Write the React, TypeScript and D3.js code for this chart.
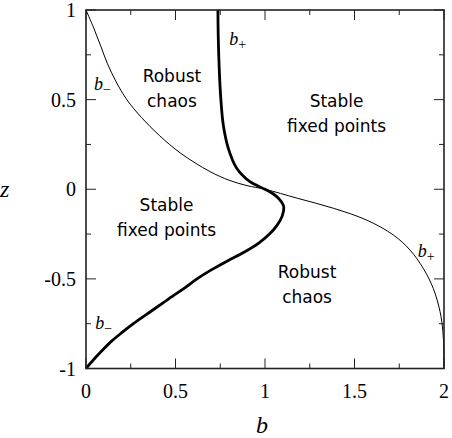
import React from 'react';
import * as d3 from 'd3';

const width = 452;
const height = 438;
const margin = { left: 86, right: 8, top: 10, bottom: 69.5 };

// thin curve: b_- for z > 0, b_+ for z < 0
const thinZ = [1, 0.9, 0.8, 0.7, 0.6, 0.5, 0.4, 0.3, 0.2, 0.1, 0.05, 0.02, 0,
  -0.05, -0.106, -0.172, -0.255, -0.339, -0.441, -0.553, -0.683, -0.795, -0.9, -1];
const thinB = [0, 0.043, 0.082, 0.12, 0.168, 0.228, 0.31, 0.41, 0.53, 0.69, 0.8, 0.9, 1,
  1.18, 1.382, 1.568, 1.717, 1.81, 1.884, 1.94, 1.978, 1.994, 1.999, 2];

// thick curve: b_+ for z > 0, b_- for z < 0
const thickZ = [1, 0.842, 0.656, 0.507, 0.358, 0.228, 0.117, 0.042, 0,
  -0.025, -0.05, -0.075, -0.1, -0.15, -0.2, -0.25, -0.3, -0.35, -0.4, -0.45,
  -0.5, -0.55, -0.6, -0.65, -0.7, -0.75, -0.8, -0.85, -0.9, -0.95, -1];
const thickB = [0.737, 0.739, 0.745, 0.753, 0.767, 0.795, 0.842, 0.916, 1,
  1.045, 1.075, 1.095, 1.105, 1.096, 1.068, 1.025, 0.965, 0.885, 0.79, 0.7,
  0.62, 0.552, 0.478, 0.407, 0.336, 0.265, 0.2, 0.14, 0.09, 0.043, 0];

// ticks
const bMajor = [0, 0.5, 1, 1.5, 2];
const bLabels = ['0', '0.5', '1', '1.5', '2'];
const zMajor = [-1, -0.5, 0, 0.5, 1];
const zLabels = ['-1', '-0.5', '0', '0.5', '1'];
const bMinor = [0.25, 0.75, 1.25, 1.75];
const zMinor = [-0.75, -0.25, 0.25, 0.75];

// region names, anchored in (b, z)
const regionText = [['Robust', 'chaos'], ['Stable', 'fixed points'], ['Stable', 'fixed points'], ['Robust', 'chaos']];
const regionB = [0.48, 1.4, 0.45, 1.235];
const regionZ = [0.598, 0.458, -0.121, -0.495];

// curve names
const curveSub = ['\u2212', '+', '+', '\u2212'];
const curveLabelB = [0.045, 0.8, 1.853, 0.052];
const curveLabelZ = [0.554, 0.805, -0.38, -0.78];

const App = () => {
  const x = d3.scaleLinear().domain([0, 2]).range([margin.left, width - margin.right]);
  const y = d3.scaleLinear().domain([-1, 1]).range([height - margin.bottom, margin.top]);

  const path = (bs: number[], zs: number[]) =>
    d3.line<number>()
      .x((d) => x(bs[d]))
      .y((d) => y(zs[d]))
      .curve(d3.curveCatmullRom.alpha(0.5))(d3.range(bs.length)) || '';

  const [x0, x1] = x.range();
  const [y0, y1] = y.range();
  const serif = '"Liberation Serif", "Times New Roman", serif';
  const sans = '"DejaVu Sans", sans-serif';

  return (
    <svg width={width} height={height} style={{ position: 'absolute', left: 0, top: 0, background: '#fff' }}>
      {/* curves */}
      <path d={path(thinB, thinZ)} fill="none" stroke="#000" strokeWidth={1} />
      <path d={path(thickB, thickZ)} fill="none" stroke="#000" strokeWidth={2.8} />

      {/* frame */}
      <rect x={x0} y={y1} width={x1 - x0} height={y0 - y1} fill="none" stroke="#222" strokeWidth={1.6} />

      {/* ticks, mirrored on all four sides */}
      {bMajor.concat(bMinor).map((d, i) => {
        const len = i < bMajor.length ? 10 : 5;
        return (
          <g key={'bt' + d} stroke="#222" strokeWidth={1}>
            <line x1={x(d)} x2={x(d)} y1={y0} y2={y0 - len} />
            <line x1={x(d)} x2={x(d)} y1={y1} y2={y1 + len} />
          </g>
        );
      })}
      {zMajor.concat(zMinor).map((d, i) => {
        const len = i < zMajor.length ? 10 : 5;
        return (
          <g key={'zt' + d} stroke="#222" strokeWidth={1}>
            <line x1={x0} x2={x0 + len} y1={y(d)} y2={y(d)} />
            <line x1={x1} x2={x1 - len} y1={y(d)} y2={y(d)} />
          </g>
        );
      })}

      {/* tick labels */}
      {bMajor.map((d, i) => (
        <text key={'bl' + d} x={x(d)} y={398} textAnchor="middle" fontFamily={serif} fontSize={20}>
          {bLabels[i]}
        </text>
      ))}
      {zMajor.map((d, i) => (
        <text key={'zl' + d} x={76} y={y(d)} dy="0.35em" textAnchor="end" fontFamily={serif} fontSize={20}>
          {zLabels[i]}
        </text>
      ))}

      {/* axis titles */}
      <text x={262} y={433} textAnchor="middle" fontFamily={serif} fontStyle="italic" fontSize={24}>b</text>
      <text x={0} y={197} fontFamily={serif} fontStyle="italic" fontSize={24}>z</text>

      {/* region names */}
      {regionText.map((lines, i) => (
        <text key={'r' + i} textAnchor="middle" fontFamily={sans} fontSize={17} fill="#000">
          {lines.map((t, j) => (
            <tspan key={j} x={x(regionB[i])} y={y(regionZ[i]) + j * 25}>{t}</tspan>
          ))}
        </text>
      ))}

      {/* curve names */}
      {curveSub.map((s, i) => (
        <text key={'c' + i} x={x(curveLabelB[i])} y={y(curveLabelZ[i])} fontFamily={serif} fontSize={18}>
          <tspan fontStyle="italic">b</tspan>
          <tspan dy={4} fontSize={14}>{s}</tspan>
        </text>
      ))}
    </svg>
  );
};

export default App;
